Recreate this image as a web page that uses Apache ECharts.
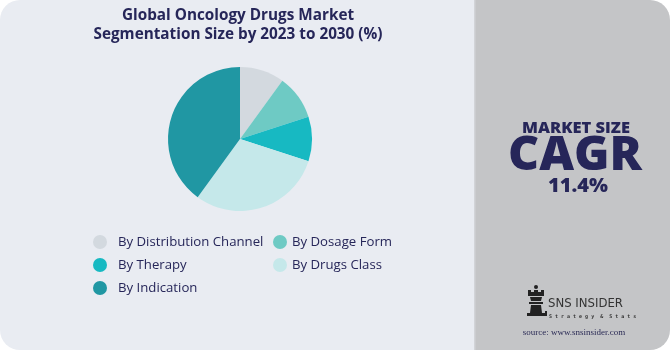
<!DOCTYPE html>
<html>
<head>
<meta charset="utf-8">
<script src="https://cdn.jsdelivr.net/npm/echarts@6/dist/echarts.min.js"></script>
<style>
  html, body { margin: 0; padding: 0; background: #ffffff; }
  #chart { width: 670px; height: 350px; }
</style>
</head>
<body>
<div id="chart"></div>
<script>
// Segment names and their shares (%)
const segments = ['By Distribution Channel', 'By Dosage Form', 'By Therapy', 'By Drugs Class', 'By Indication'];
const shares = [10, 10, 10, 30, 40];
const segmentColors = ['#d3d9df', '#6ecac4', '#17b9c2', '#c5e8ea', '#2097a3'];

// Legend columns
const legendLeftCol = ['By Distribution Channel', 'By Therapy', 'By Indication'];
const legendRightCol = ['By Dosage Form', 'By Drugs Class'];

const titleLines = ['Global Oncology Drugs Market', 'Segmentation Size by 2023 to 2030 (%)'];
const cagrValue = '11.4%';

const navy = '#262659';
const font = '"Open Sans", "Noto Sans", sans-serif';

const chart = echarts.init(document.getElementById('chart'), null, { renderer: 'canvas' });

const legendBase = {
  orient: 'vertical',
  icon: 'circle',
  padding: 0,
  itemWidth: 14,
  itemHeight: 14,
  itemGap: 9,
  selectedMode: false,
  textStyle: { color: navy, fontSize: 13.2, fontFamily: font }
};

chart.setOption({
  animation: false,
  color: segmentColors,
  graphic: [
    // left panel
    { type: 'rect', z: -10, shape: { x: 0, y: 0, width: 490, height: 350, r: [20, 0, 0, 20] }, style: { fill: '#e9ecf2' } },
    // right panel
    { type: 'rect', z: -10, shape: { x: 474, y: 0, width: 196, height: 350, r: [0, 20, 20, 0] }, style: { fill: '#c4c5c7' } },
    { type: 'rect', z: -9, shape: { x: 474, y: 0, width: 1.5, height: 350 }, style: { fill: '#d2d4d8' } },
    // right-hand headline
    { type: 'text', style: { text: 'MARKET SIZE', x: 576, y: 128, align: 'center', verticalAlign: 'middle', fill: navy, font: '900 16.5px ' + font } },
    { type: 'text', style: { text: 'CAGR', x: 575, y: 156, align: 'center', verticalAlign: 'middle', fill: navy, font: '900 48px ' + font } },
    { type: 'text', style: { text: cagrValue, x: 578, y: 186, align: 'center', verticalAlign: 'middle', fill: navy, font: '900 20px ' + font } },
    // rook logo
    { type: 'group', children: [
      { type: 'circle', shape: { cx: 536, cy: 287, r: 2 }, style: { fill: '#222' } },
      { type: 'polygon', shape: { points: [[528,290],[531,290],[531,292],[534,292],[534,290],[538,290],[538,292],[541,292],[541,290],[544,290],[544,296],[528,296]] }, style: { fill: '#222' } },
      { type: 'polygon', shape: { points: [[530,297],[542,297],[541,301],[531,301]] }, style: { fill: '#222' } },
      { type: 'rect', shape: { x: 529, y: 302, width: 14, height: 2 }, style: { fill: '#222' } },
      { type: 'polygon', shape: { points: [[531,305],[541,305],[542,313],[530,313]] }, style: { fill: '#222' } },
      { type: 'rect', shape: { x: 527, y: 313, width: 18, height: 3 }, style: { fill: '#222' } },
      { type: 'rect', shape: { x: 545, y: 311, width: 2, height: 5 }, style: { fill: '#222' } }
    ]},
    { type: 'text', style: { text: 'SNS INSIDER', x: 548, y: 304, verticalAlign: 'middle', fill: '#333', font: '13px "Liberation Sans Narrow", "DejaVu Sans Condensed", sans-serif' } },
    { type: 'text', style: { text: 'S t r a t e g y  &  S t a t s', x: 549, y: 317, verticalAlign: 'middle', fill: '#333', font: 'bold 5px "DejaVu Sans Mono", monospace' } },
    { type: 'text', style: { text: 'source: www.snsinsider.com', x: 574, y: 333, align: 'center', verticalAlign: 'middle', fill: '#2a2a55', font: '9px "Liberation Serif", "DejaVu Serif", serif' } }
  ],
  title: {
    text: titleLines.join('\n'),
    left: 238,
    textAlign: 'center',
    top: 6,
    padding: 0,
    textStyle: { color: navy, fontSize: 15.3, fontWeight: 'bold', fontFamily: font, lineHeight: 19 }
  },
  legend: [
    Object.assign({}, legendBase, {
      data: legendLeftCol, left: 93, top: 235,
      textStyle: Object.assign({}, legendBase.textStyle, { padding: [0, 0, 0, 6] })
    }),
    Object.assign({}, legendBase, { data: legendRightCol, left: 273, top: 235 })
  ],
  series: [{
    type: 'pie',
    center: [240, 139],
    radius: [0, 72],
    startAngle: 90,
    clockwise: true,
    label: { show: false },
    labelLine: { show: false },
    emphasis: { disabled: true },
    itemStyle: { borderWidth: 0 },
    data: segments.map((name, i) => ({ name, value: shares[i] }))
  }]
});
</script>
</body>
</html>
